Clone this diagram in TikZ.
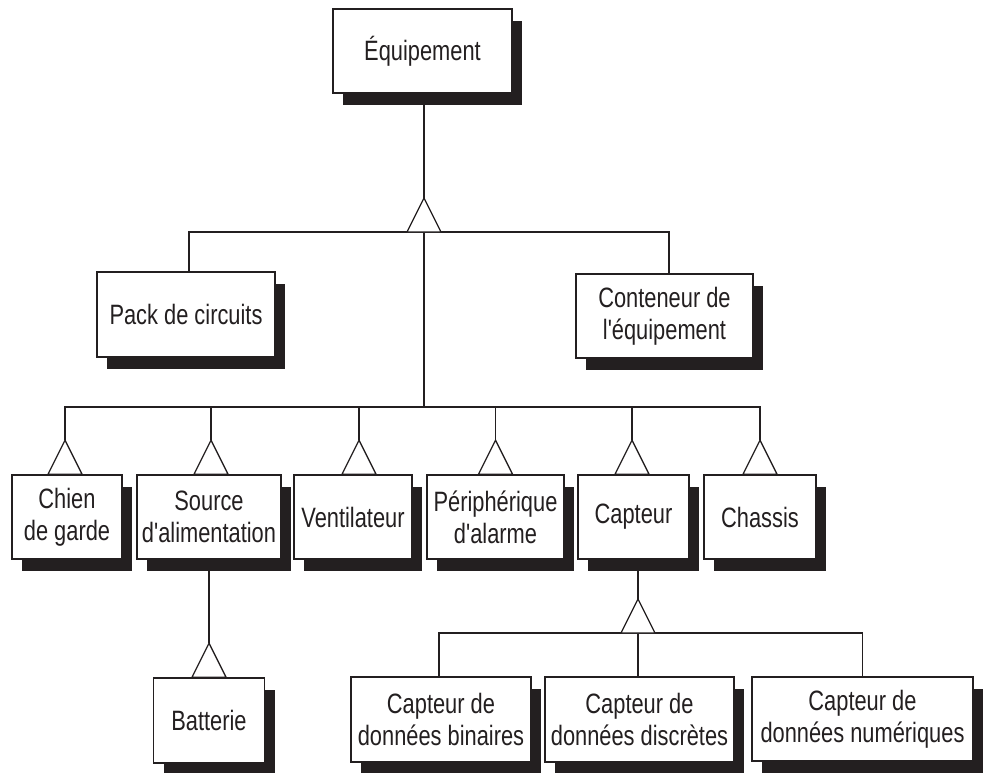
\documentclass[tikz,border=0pt]{standalone}
\usepackage{fontspec}
\newfontfamily\labelfont[FakeStretch=0.78]{Liberation Sans}
\usetikzlibrary{shadows,backgrounds}
\definecolor{ink}{RGB}{35,31,32}
\begin{document}
\begin{tikzpicture}[x=1pt,y=-1pt,
  cls/.style={draw=ink, line width=1.6pt, fill=white, text=ink, align=center,
    inner sep=0pt, minimum height=84pt,
    font=\labelfont\fontsize{28}{32}\selectfont,
    drop shadow={shadow xshift=10pt, shadow yshift=-12pt, fill=ink, opacity=1}},
  link/.style={draw=ink, line width=1.3pt},
  gen/.pic={\draw[link, fill=white] (-17,0) -- (0,-34) coordinate (-apex) -- (17,0) -- cycle;
            \coordinate (-base) at (0,0);}
]
\useasboundingbox (0,0) rectangle (988,773);

% classes
\node[cls, minimum width=179pt] (equip) at (422.5,51) {Équipement};
\node[cls, minimum width=178pt, minimum height=85pt] (pack) at (186,314.5) {Pack de circuits};
\node[cls, minimum width=177pt] (cont) at (664.5,316) {Conteneur de\\l'équipement};
\node[cls, minimum width=110pt] (chien) at (67,517) {Chien\\de garde};
\node[cls, minimum width=144pt] (source) at (209,517) {Source\\d'alimentation};
\node[cls, minimum width=118pt] (venti) at (353,517) {Ventilateur};
\node[cls, minimum width=137pt] (peri) at (495.5,517) {Périphérique\\d'alarme};
\node[cls, minimum width=111pt] (capt) at (633.5,517) {Capteur};
\node[cls, minimum width=112pt] (chassis) at (760,517) {Chassis};
\node[cls, minimum width=111pt, minimum height=85pt] (batt) at (209,720.5) {Batterie};
\node[cls, minimum width=180pt, minimum height=85pt] (bin) at (441,719.5) {Capteur de\\données binaires};
\node[cls, minimum width=189pt, minimum height=85pt] (disc) at (639.5,719.5) {Capteur de\\données discrètes};
\node[cls, minimum width=221pt] (num) at (862.5,719) {Capteur de\\données numériques};

% generalisation triangles
\pic (ga) at (424,232) {gen};
\pic (gch) at ([xshift=-2pt]chien.north) {gen};
\pic (gso) at ([xshift=2pt]source.north) {gen};
\pic (gve) at ([xshift=6pt]venti.north) {gen};
\pic (gpe) at (peri.north) {gen};
\pic (gca) at ([xshift=-1.5pt]capt.north) {gen};
\pic (gcs) at (chassis.north) {gen};
\pic (gb) at (batt.north) {gen};
\pic (gc) at (638,633) {gen};
\coordinate (hub) at (424,407);

% connectors
\begin{scope}[on background layer]
  \draw[link] (equip.south -| ga-apex) -- (ga-apex);
  \draw[link] ([xshift=3pt]pack.north) |- (ga-base);
  \draw[link] ([xshift=4.5pt]cont.north) |- (ga-base);
  \draw[link] (ga-base) -- (hub);
  \foreach \g in {gch,gso,gve,gpe,gca,gcs}
    \draw[link] (\g-apex) |- (hub);
  \draw[link] (source.south) -- (gb-apex);
  \draw[link] (capt.south -| gc-apex) -- (gc-apex);
  \draw[link] ([xshift=-2pt]bin.north) |- (gc-base);
  \draw[link] (disc.north -| gc-apex) -- (gc-base);
  \draw[link] (num.north) |- (gc-base);
\end{scope}
\end{tikzpicture}
\end{document}
